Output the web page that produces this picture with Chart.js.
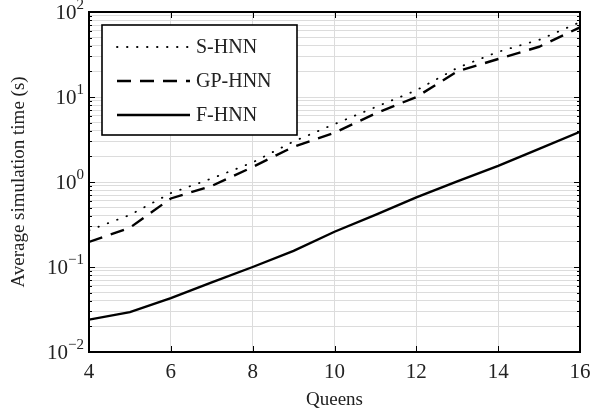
<!DOCTYPE html>
<html>
<head>
<meta charset="utf-8">
<script src="https://cdn.jsdelivr.net/npm/chart.js@4.4.1/dist/chart.umd.min.js"></script>
<style>
  html, body { margin: 0; padding: 0; background: #fff; }
  #wrap { width: 590px; height: 415px; }
</style>
</head>
<body>
<div id="wrap"><canvas id="simChart" width="590" height="415"></canvas></div>
<script>
const queens = [4, 5, 6, 7, 8, 9, 10, 11, 12, 13, 14, 15, 16];
const sHnn = [0.27, 0.41, 0.74, 1.1, 1.7, 3.0, 4.8, 7.6, 12, 22, 34, 47, 76];
const gpHnn = [0.197, 0.29, 0.64, 0.9, 1.5, 2.6, 3.8, 6.4, 10, 20, 28, 39, 66];
const fHnn = [0.024, 0.0295, 0.043, 0.066, 0.1, 0.155, 0.26, 0.41, 0.66, 1.02, 1.55, 2.45, 3.9];
const xTicks = [4, 6, 8, 10, 12, 14, 16];
const decades = [-2, -1, 0, 1, 2];

const FONT = "'Liberation Serif', 'DejaVu Serif', serif";

const toPoints = vals => vals.map((v, i) => ({ x: queens[i], y: v }));

// every log gridline: 1..9 x 10^k
const yTickValues = [];
decades.forEach((d, i) => {
  for (let m = 1; m <= 9; m++) {
    if (i === decades.length - 1 && m > 1) break;
    yTickValues.push(m * Math.pow(10, d));
  }
});
const isDecade = v => Math.abs(Math.log10(v) - Math.round(Math.log10(v))) < 1e-9;

const framePlugin = {
  id: "frame",
  afterDraw(chart) {
    const { ctx, chartArea: a, scales } = chart;
    const xs = scales.x, ys = scales.y;
    ctx.save();
    ctx.strokeStyle = "#000";

    // inward ticks
    ctx.lineWidth = 1;
    ctx.beginPath();
    yTickValues.forEach(v => {
      const py = Math.round(ys.getPixelForValue(v)) + 0.5;
      const len = isDecade(v) ? 6 : 3;
      ctx.moveTo(a.left, py); ctx.lineTo(a.left + len, py);
      ctx.moveTo(a.right, py); ctx.lineTo(a.right - len, py);
    });
    xTicks.forEach(v => {
      const px = Math.round(xs.getPixelForValue(v)) + 0.5;
      ctx.moveTo(px, a.bottom); ctx.lineTo(px, a.bottom - 6);
      ctx.moveTo(px, a.top); ctx.lineTo(px, a.top + 6);
    });
    ctx.stroke();

    // frame
    ctx.lineWidth = 2;
    ctx.strokeRect(a.left, a.top, a.right - a.left, a.bottom - a.top);

    // y labels 10^k
    ctx.fillStyle = "#222";
    ctx.textBaseline = "middle";
    decades.forEach(d => {
      const py = ys.getPixelForValue(Math.pow(10, d));
      const exp = d < 0 ? "\u2212" + Math.abs(d) : String(d);
      ctx.font = "15px " + FONT;
      const ew = ctx.measureText(exp).width;
      ctx.textAlign = "left";
      const right = a.left - 5;
      ctx.fillText(exp, right - ew, py - 7);
      ctx.font = "21px " + FONT;
      ctx.textAlign = "right";
      ctx.fillText("10", right - ew, py + 1);
    });

    // legend box
    const lx = a.left + 13, ly = a.top + 13, lw = 195, lh = 110;
    ctx.fillStyle = "#fff";
    ctx.fillRect(lx, ly, lw, lh);
    ctx.lineWidth = 1.6;
    ctx.strokeStyle = "#000";
    ctx.strokeRect(lx, ly, lw, lh);
    chart.data.datasets.forEach((ds, i) => {
      const ey = ly + 22 + i * 34;
      ctx.beginPath();
      ctx.lineWidth = ds.borderWidth;
      ctx.setLineDash(ds.borderDash || []);
      ctx.lineCap = ds.borderCapStyle || "butt";
      ctx.moveTo(lx + 15, ey);
      ctx.lineTo(lx + 88, ey);
      ctx.stroke();
      ctx.setLineDash([]);
      ctx.fillStyle = "#222";
      ctx.font = "20px " + FONT;
      ctx.textAlign = "left";
      ctx.fillText(ds.label, lx + 94, ey + 1);
    });
    ctx.restore();
  }
};

new Chart(document.getElementById("simChart"), {
  type: "line",
  data: {
    datasets: [
      { label: "S-HNN", data: toPoints(sHnn), borderColor: "#000", borderWidth: 1.8,
        borderDash: [0.5, 9.5], borderCapStyle: "round" },
      { label: "GP-HNN", data: toPoints(gpHnn), borderColor: "#000", borderWidth: 2.4,
        borderDash: [14, 9] },
      { label: "F-HNN", data: toPoints(fHnn), borderColor: "#000", borderWidth: 2.4 }
    ]
  },
  options: {
    responsive: false,
    animation: false,
    layout: { padding: { left: 4, right: 10, top: 12, bottom: 0 } },
    elements: { point: { radius: 0 }, line: { tension: 0, fill: false } },
    plugins: { legend: { display: false }, tooltip: { enabled: false } },
    scales: {
      x: {
        type: "linear",
        min: 4,
        max: 16,
        afterBuildTicks: s => { s.ticks = xTicks.map(v => ({ value: v })); },
        afterFit: s => { s.height = 63; s.paddingRight = 0; s.paddingLeft = 0; },
        grid: { color: "#dcdcdc", lineWidth: 1, drawTicks: false },
        border: { display: false },
        ticks: { color: "#222", padding: 8, font: { family: FONT, size: 21 } },
        title: { display: true, text: "Queens", color: "#222", padding: { top: 12 },
                 font: { family: FONT, size: 19 } }
      },
      y: {
        type: "logarithmic",
        min: 0.01,
        max: 100,
        afterBuildTicks: s => { s.ticks = yTickValues.map(v => ({ value: v })); },
        afterFit: s => { s.width = 85; },
        grid: { color: "#dcdcdc", lineWidth: 1, drawTicks: false },
        border: { display: false },
        ticks: { display: false, autoSkip: false },
        title: { display: true, text: "Average simulation time (s)", color: "#222",
                 padding: { bottom: 0 }, font: { family: FONT, size: 19 } }
      }
    }
  },
  plugins: [framePlugin]
});
</script>
</body>
</html>
